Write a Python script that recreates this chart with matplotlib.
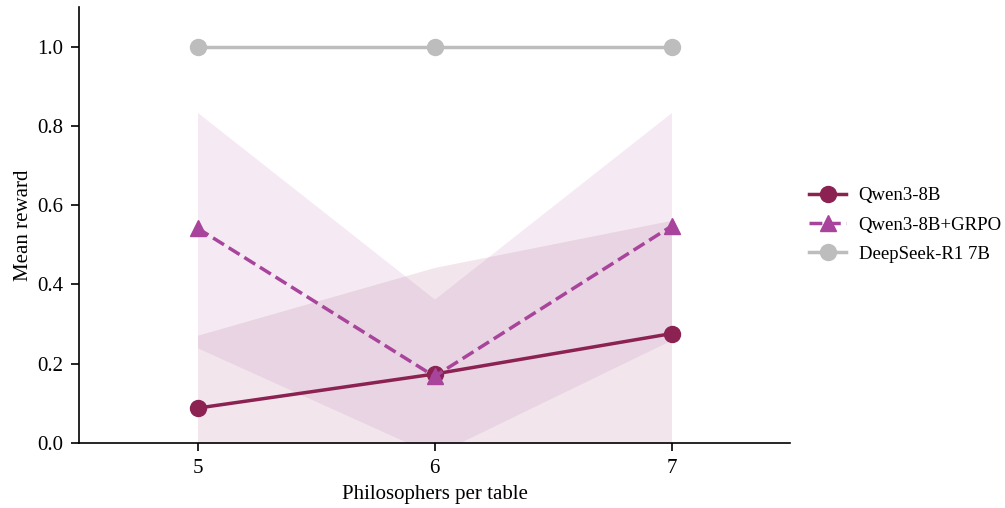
import matplotlib
matplotlib.use("Agg")
import matplotlib.pyplot as plt
import numpy as np

plt.rcParams['font.family'] = ['Liberation Serif', 'DejaVu Serif']

x = [5, 6, 7]
qwen_mean = [0.088, 0.174, 0.276]
qwen_lo = [-0.09, -0.09, -0.01]
qwen_hi = [0.272, 0.443, 0.562]
grpo_mean = [0.542, 0.168, 0.547]
grpo_lo = [0.24, -0.03, 0.26]
grpo_hi = [0.834, 0.363, 0.834]
ds_mean = [1.0, 1.0, 1.0]

c_qwen = '#8b2252'
c_grpo = '#a8449b'
c_ds = '#bdbdbd'

fig = plt.figure(figsize=(10.05, 5.08), dpi=100)
ax = fig.add_axes([79/1005, 1-443/508, (790-79)/1005, (443-7)/508])

ax.fill_between(x, qwen_lo, qwen_hi, color=c_qwen, alpha=0.11, lw=0)
ax.fill_between(x, grpo_lo, grpo_hi, color=c_grpo, alpha=0.11, lw=0)

ax.plot(x, qwen_mean, color=c_qwen, lw=2.5, marker='o', ms=11.5, label='Qwen3-8B')
ax.plot(x, grpo_mean, color=c_grpo, lw=2.5, ls='--', marker='^', ms=11.5, label='Qwen3-8B+GRPO')
ax.plot(x, ds_mean, color=c_ds, lw=2.5, marker='o', ms=11.5, label='DeepSeek-R1 7B')

ax.set_xlim(4.5, 7.5)
ax.set_ylim(0, 1.1)
ax.set_xticks(x)
ax.set_yticks([0, 0.2, 0.4, 0.6, 0.8, 1.0])
ax.set_yticklabels(['0.0', '0.2', '0.4', '0.6', '0.8', '1.0'])
ax.tick_params(labelsize=15, length=6, width=1.2, pad=5.5)
ax.set_xlabel('Philosophers per table', fontsize=15, labelpad=5)
ax.set_ylabel('Mean reward', fontsize=15, labelpad=3)
for s in ['top', 'right']:
    ax.spines[s].set_visible(False)
for s in ['left', 'bottom']:
    ax.spines[s].set_linewidth(1.2)

ax.legend(loc='center left', bbox_to_anchor=(1.008, 0.5), frameon=False, fontsize=13.5,
          handlelength=2.0, handletextpad=0.65, labelspacing=0.65, borderaxespad=0.3)

fig.savefig('out.png', dpi=100)
